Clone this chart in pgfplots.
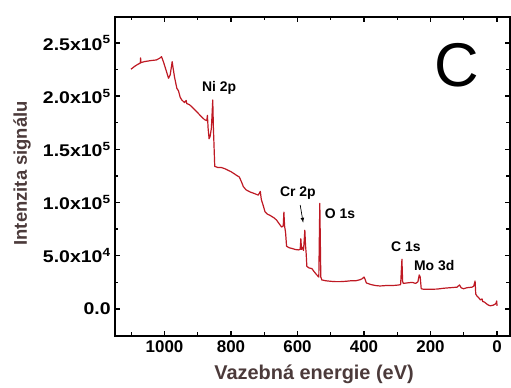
\documentclass[border=0pt]{standalone}
\usepackage{pgfplots}
\pgfplotsset{compat=1.18}
\usepackage{fontspec}
\setmainfont{Liberation Sans}
\definecolor{curve}{RGB}{190,25,35}
\definecolor{labcol}{RGB}{75,58,58}
\newcommand{\yl}[1]{\scalebox{1.15}[1]{#1}}
\pgfplotsset{every axis/.append style={line width=2bp}}
\begin{document}
\begin{tikzpicture}
\useasboundingbox (0,0) rectangle (511bp,388bp);
\begin{axis}[
  at={(115bp,52bp)}, anchor=south west,
  scale only axis, width=395bp, height=319bp,
  axis line style={line width=2bp, black},
  x dir=reverse, xmin=-39, xmax=1149, ymin=-25400, ymax=274400,
  tick align=inside, major tick length=5bp, minor tick length=3.5bp,
  tick style={line width=1.4bp, black},
  xtick={0,200,400,600,800,1000},
  xticklabels={0,200,400,600,800,1000},
  minor xtick={100,300,500,700,900,1100},
  ytick={0,50000,100000,150000,200000,250000},
  yticklabels={\yl{0.0},\yl{5.0x10\textsuperscript{4}},\yl{1.0x10\textsuperscript{5}},\yl{1.5x10\textsuperscript{5}},\yl{2.0x10\textsuperscript{5}},\yl{2.5x10\textsuperscript{5}}},
  minor ytick={25000,75000,125000,175000,225000},
  scaled y ticks=false,
  ticklabel style={font=\fontsize{17}{17}\selectfont\bfseries},
  xlabel={Vazebná energie (eV)}, ylabel={Intenzita signálu},
  xlabel style={font=\fontsize{20}{20}\selectfont\bfseries, text=labcol, at={(axis description cs:0.504,-0.119)}, anchor=center},
  ylabel style={font=\fontsize{18.5}{18.5}\selectfont\bfseries, text=labcol, at={(axis description cs:-0.235,0.51)}, anchor=center},
  clip=false,
]
\addplot[color=curve, line width=1.2bp, line join=round] coordinates {
(1101,225300) (1090,228000) (1080,230000) (1073,231000) (1072,236000) (1071,231500)
(1060,232500) (1040,233500) (1025,234000) (1015,235600) (1009,237100) (1003,232000)
(995,224000) (988,216800) (983,220000) (977,232400) (975,228000) (970,218000)
(963,207400) (958,205000) (953,199000) (948,196400) (940,194000) (935,196000)
(933,193000) (925,192000) (918,190000) (905,186000) (893,182000) (880,178000)
(873,177000) (871,182000) (869,170000) (866,160000) (863,162000) (859,170000)
(855,196400) (853,170000) (849,134000) (840,133000) (830,133000) (820,132000)
(813,131000) (800,129000) (790,127000) (783,125500) (775,124000) (768,119000)
(763,115000) (755,112000) (743,110000) (730,108500) (718,107000) (712,110500)
(709,103000) (703,97000) (698,91500) (690,89000) (683,88000) (670,85500)
(663,83500) (655,80000) (648,77000) (643,78000) (641,91000) (639,78000)
(636,72000) (633,59000) (625,57500) (618,57000) (608,56000) (598,55500)
(592,56000) (590,66000) (588,56000) (585,58000) (582,55000) (578,74000)
(576,60000) (574,52000) (572,40000) (565,38500) (557,38000) (550,35000)
(542,32000) (536,30000) (533,99300) (530,30000) (527,27300) (515,26500)
(500,26000) (485,25700) (472,25700) (455,26000) (440,26500) (425,26500)
(412,27500) (405,28500) (400,30000) (397,28000) (393,24500) (380,23000)
(365,22000) (352,21600) (335,22000) (315,22000) (300,22400) (290,22800)
(286,46700) (284,26000) (282,24000) (270,24500) (255,25000) (245,24000)
(238,25500) (234,32000) (231,30000) (228,19000) (220,18500) (200,18500)
(180,18700) (160,19500) (140,20000) (120,20500) (113,22600) (108,20000)
(101,19000) (90,20000) (75,20500) (70,21500) (66,26300) (64,14000)
(60,12000) (55,10500) (50,8500) (45,9500) (43,7000) (38,6500)
(30,4500) (25,3500) (20,3000) (12,3500) (6,4500) (3,5500)
(1,7500) (0,3000)
};
\node[font=\fontsize{14}{14}\selectfont\bfseries] at (axis cs:836,207400) {Ni 2p};
\node[font=\fontsize{14}{14}\selectfont\bfseries] at (axis cs:599,108700) {Cr 2p};
\draw[-{latex}, line width=0.7bp] (axis cs:592,97700) -- (axis cs:583,81100);
\node[font=\fontsize{14}{14}\selectfont\bfseries] at (axis cs:472,89900) {O 1s};
\node[font=\fontsize{14}{14}\selectfont\bfseries] at (axis cs:274,58500) {C 1s};
\node[font=\fontsize{14}{14}\selectfont\bfseries] at (axis cs:189,41300) {Mo 3d};
\node[font=\fontsize{62}{62}\selectfont] at (axis cs:121,229300) {C};
\end{axis}
\end{tikzpicture}
\end{document}
